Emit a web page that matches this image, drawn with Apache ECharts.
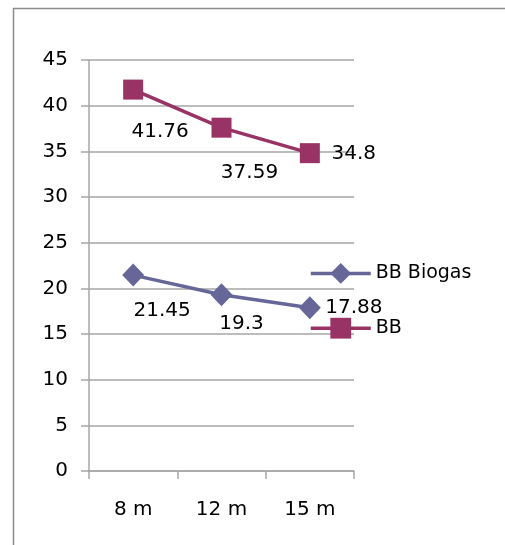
<!DOCTYPE html>
<html>
<head>
<meta charset="utf-8">
<script src="https://cdn.jsdelivr.net/npm/echarts@6/dist/echarts.min.js"></script>
<style>
  html, body { margin: 0; padding: 0; background: #fff; }
  #chart { width: 505px; height: 545px; }
</style>
</head>
<body>
<div id="chart"></div>
<script>
// data
const categories = ["8 m", "12 m", "15 m"];
const bbValues = [41.76, 37.59, 34.8];
const biogasValues = [21.45, 19.3, 17.88];
const yTicks = { min: 0, max: 45, step: 5 };

// label offsets (dx, dy) from the point centre, as placed in the original
const bbLabelOffsets = [[27, 42], [28, 45], [44, 1]];
const biogasLabelOffsets = [[29, 36], [20, 29], [44, 0]];

const font = "DejaVu Sans";
const gridColor = "#a6a6a6";
const frameStyle = { stroke: "#8c8c8c", lineWidth: 1.5 };

function withLabels(values, offsets) {
  return values.map((v, i) => ({
    value: v,
    label: { position: "inside", offset: offsets[i] },
  }));
}

const chart = echarts.init(document.getElementById("chart"));
chart.setOption({
  animation: false,
  backgroundColor: "#fff",
  textStyle: { fontFamily: font },
  // outer frame of the chart object (left and top edges only are visible)
  graphic: [
    { type: "line", shape: { x1: 13.5, y1: 8, x2: 13.5, y2: 545 }, style: frameStyle },
    { type: "line", shape: { x1: 13, y1: 8.5, x2: 505, y2: 8.5 }, style: frameStyle },
  ],
  grid: { left: 89, right: 151, top: 60, bottom: 74, containLabel: false },
  legend: {
    orient: "vertical",
    left: 304,
    top: 258,
    itemWidth: 60,
    itemHeight: 26,
    itemGap: 34,
    data: ["BB Biogas", "BB"],
    lineStyle: { width: 3.5 },
    textStyle: { fontFamily: font, fontSize: 19, color: "#000" },
  },
  xAxis: {
    type: "category",
    data: categories,
    boundaryGap: true,
    axisLine: { lineStyle: { color: gridColor, width: 1.5 } },
    axisTick: { show: true, length: 8, lineStyle: { color: gridColor, width: 1.5 } },
    axisLabel: { fontSize: 20, color: "#000", margin: 29, fontFamily: font },
  },
  yAxis: {
    type: "value",
    min: yTicks.min,
    max: yTicks.max,
    interval: yTicks.step,
    axisLine: { show: true, lineStyle: { color: gridColor, width: 1.5 } },
    axisTick: { show: true, length: 8, lineStyle: { color: gridColor, width: 1.5 } },
    axisLabel: { fontSize: 20, color: "#000", margin: 21, fontFamily: font },
    splitLine: { lineStyle: { color: gridColor, width: 1.5 } },
  },
  series: [
    {
      name: "BB Biogas",
      type: "line",
      data: withLabels(biogasValues, biogasLabelOffsets),
      symbol: "diamond",
      symbolSize: [22, 23],
      color: "#666699",
      lineStyle: { width: 3.5, color: "#666699" },
      itemStyle: { color: "#666699" },
      label: { show: true, fontSize: 20, color: "#000", fontFamily: font },
    },
    {
      name: "BB",
      type: "line",
      data: withLabels(bbValues, bbLabelOffsets),
      symbol: "rect",
      symbolSize: 20,
      color: "#993366",
      lineStyle: { width: 3.5, color: "#993366" },
      itemStyle: { color: "#993366" },
      label: { show: true, fontSize: 20, color: "#000", fontFamily: font },
    },
  ],
});
</script>
</body>
</html>
